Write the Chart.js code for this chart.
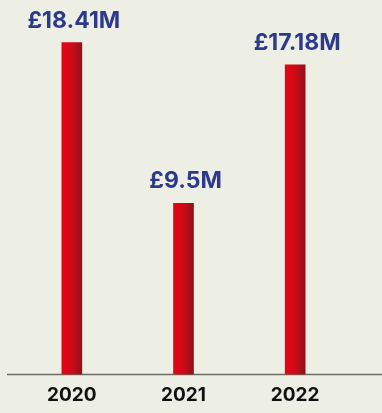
<!DOCTYPE html>
<html>
<head>
<meta charset="utf-8">
<script src="https://cdn.jsdelivr.net/npm/chart.js@4.4.0/dist/chart.umd.min.js"></script>
<style>
  html, body { margin: 0; padding: 0; background: #edefe5; }
  #wrap { width: 382px; height: 413px; }
</style>
</head>
<body>
<div id="wrap"><canvas id="revenueChart"></canvas></div>
<script>
  // Ingresos anuales en millones de libras
  const years = ['2020', '2021', '2022'];
  const revenue = [18.41, 9.5, 17.18];

  const labelColor = '#2d3a8c';

  // Degradado horizontal rojo para cada barra
  function barGradient(context) {
    const chart = context.chart;
    const xScale = chart.scales.x;
    if (!chart.chartArea || !xScale) return '#d40a14';
    const cx = xScale.getPixelForValue(context.dataIndex);
    const g = chart.ctx.createLinearGradient(cx - 10, 0, cx + 10, 0);
    g.addColorStop(0, '#e20613');
    g.addColorStop(0.45, '#d30a15');
    g.addColorStop(1, '#8e1218');
    return g;
  }

  // Etiquetas con el valor sobre cada barra
  const valueLabels = {
    id: 'valueLabels',
    afterDatasetsDraw(chart) {
      const ctx = chart.ctx;
      const meta = chart.getDatasetMeta(0);
      ctx.save();
      ctx.font = 'bold 23px Inter, "Noto Sans", sans-serif';
      ctx.fillStyle = labelColor;
      ctx.textAlign = 'center';
      ctx.textBaseline = 'alphabetic';
      meta.data.forEach((bar, i) => {
        ctx.fillText('£' + revenue[i] + 'M', bar.x + 2, bar.y - 15);
      });
      ctx.restore();
    },
  };

  // Línea base que cruza casi todo el ancho
  const baseLine = {
    id: 'baseLine',
    beforeDatasetsDraw(chart) {
      const ctx = chart.ctx;
      const y = chart.scales.y.getPixelForValue(0);
      ctx.save();
      ctx.strokeStyle = '#6b6d66';
      ctx.lineWidth = 1.5;
      ctx.beginPath();
      ctx.moveTo(7, y);
      ctx.lineTo(chart.width, y);
      ctx.stroke();
      ctx.restore();
    },
  };

  new Chart(document.getElementById('revenueChart'), {
    type: 'bar',
    data: {
      labels: years,
      datasets: [{
        data: revenue,
        backgroundColor: barGradient,
        barThickness: 20,
        borderWidth: 0,
      }],
    },
    options: {
      responsive: true,
      maintainAspectRatio: false,
      animation: false,
      layout: { padding: { left: 16, right: 31, top: 0, bottom: -3.5 } },
      plugins: {
        legend: { display: false },
        tooltip: { enabled: false },
      },
      scales: {
        x: {
          offset: true,
          grid: { display: false, drawTicks: false },
          border: { display: false },
          ticks: {
            color: '#111111',
            padding: 11.5,
            font: { family: 'Inter, "Noto Sans", sans-serif', size: 19, weight: 'bold', lineHeight: 1 },
          },
        },
        y: {
          display: false,
          min: 0,
          max: 20.77,
        },
      },
    },
    plugins: [baseLine, valueLabels],
  });
</script>
</body>
</html>
